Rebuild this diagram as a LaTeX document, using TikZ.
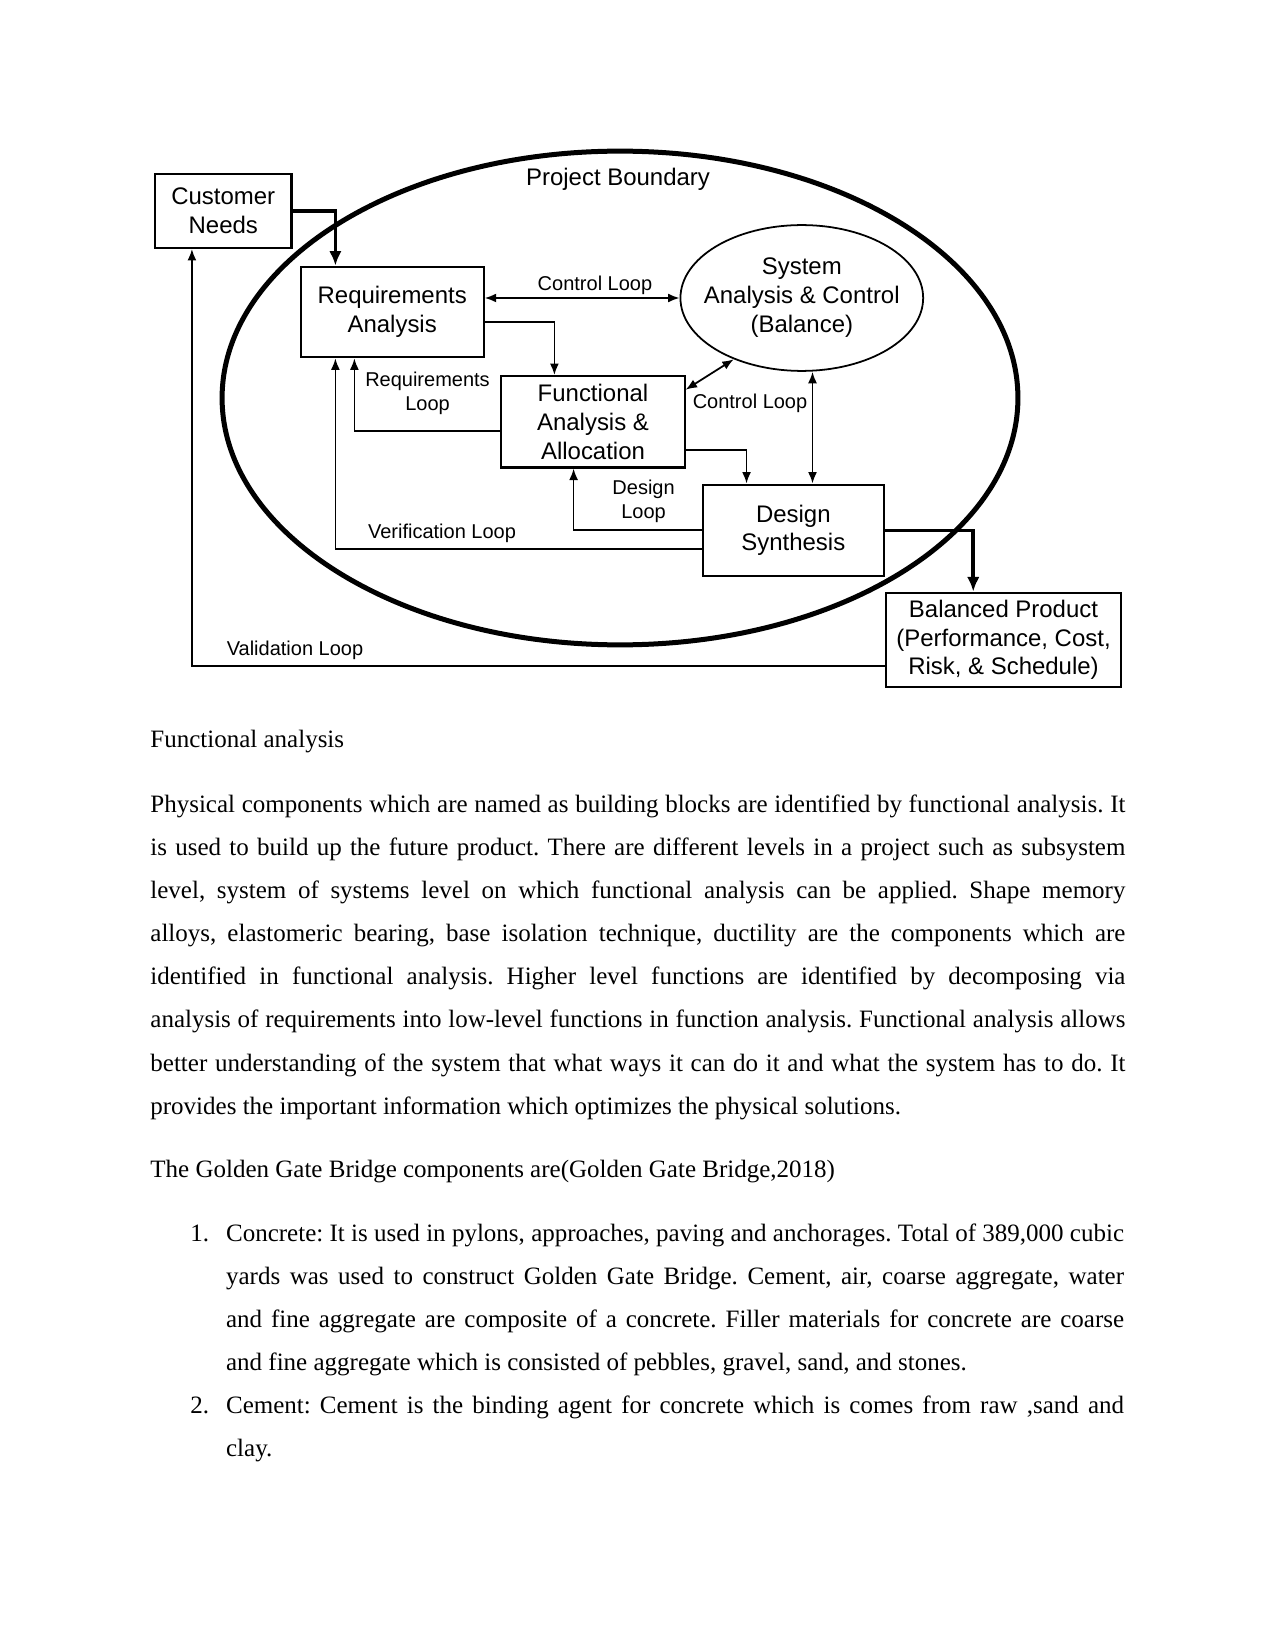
\documentclass[tikz,border=0pt]{standalone}
\usepackage{fontspec}
\setmainfont{Liberation Serif}
\setsansfont{Liberation Sans}
\usetikzlibrary{shapes.geometric,arrows.meta,calc}
\hyphenpenalty=10000
\exhyphenpenalty=10000
\frenchspacing
\begin{document}
\begin{tikzpicture}[x=0.48pt,y=-0.48pt,
  box/.style={draw, line width=1pt, rectangle, inner sep=0, align=center, font=\sffamily\fontsize{11.5}{13.9}\selectfont},
  lbl/.style={inner sep=0, align=center, font=\sffamily\fontsize{9.6}{11.4}\selectfont},
  arr/.style={line width=0.85pt, -{Latex[length=5.5pt,width=4.3pt]}},
  dbl/.style={line width=0.85pt, {Latex[length=5.5pt,width=4.3pt]}-{Latex[length=5.5pt,width=4.3pt]}},
  thk/.style={line width=1.7pt, -{Latex[length=7pt,width=6pt]}},
  body/.style={inner sep=0, anchor=base west, align=justify, font=\fontsize{12}{20.7}\selectfont\frenchspacing}
]
\useasboundingbox[fill=white] (0,0) rectangle (1275,1650);

% project boundary
\node[draw, ellipse, line width=2.4pt, minimum width=382pt, minimum height=237pt, inner sep=0] (pb) at (620,398) {};
\node[box, draw=none] (pbl) at (618,179.3) {Project Boundary};

% blocks
\node[box, minimum width=65.5pt, minimum height=35.3pt] (cn) at (223.3,211.2) {Customer\\Needs};
\node[box, minimum width=87.8pt, minimum height=43.5pt] (ra) at (392.2,312) {Requirements\\Analysis};
\node[box, minimum width=87.9pt, minimum height=43.9pt] (faa) at (593,421.8) {Functional\\Analysis \&\\Allocation};
\node[box, minimum width=87.1pt, minimum height=43.9pt] (ds) at (793.3,530.3) {Design\\Synthesis};
\node[box, minimum width=113.1pt, minimum height=45.3pt] (bp) at (1003.5,639.8) {Balanced Product\\(Performance, Cost,\\Risk, \& Schedule)};
\node[draw, ellipse, line width=0.85pt, minimum width=116.5pt, minimum height=70pt, inner sep=0] (sac) at (801.8,298) {};
\node[box, draw=none] (sact) at (sac.center) {System\\Analysis \& Control\\(Balance)};

% connectors
\draw[thk] (cn.east) -| ($(ra.north west)+(35.7,0)$);
\draw[dbl] (ra.east |- sac.west) -- (sac.west);
\draw[arr] ($(ra.east)+(0,9.7)$) -| ($(faa.north west)+(54,0)$);
\draw[arr] ($(faa.west)+(0,8.9)$) -| ($(ra.south west)+(54.7,0)$);
\draw[dbl] ($(faa.north east)+(0,14.7)$) -- (sac.222);
\coordinate (vx) at (812.5,0);
\draw[dbl] (sac.south -| vx) -- (ds.north -| vx);
\draw[arr] ($(faa.east)+(0,28.2)$) -| ($(ds.north west)+(45,0)$);
\draw[thk] (ds.east) -| ($(bp.north west)+(88.6,0)$);
\draw[arr] (ds.west) -| ($(faa.south west)+(73.2,0)$);
\draw[arr] ($(ds.west)+(0,18.7)$) -| ($(ra.south west)+(35.7,0)$);
\draw[arr] ($(bp.west)+(0,25.9)$) -| ($(cn.south west)+(37.9,0)$);

% loop labels
\node[lbl] (l1) at (595,285) {Control Loop};
\node[lbl] (l2) at (427.5,393.7) {Requirements\\Loop};
\node[lbl] (l3) at (750,403.3) {Control Loop};
\node[lbl] (l4) at (643.6,501) {Design\\Loop};
\node[lbl] (l5) at (442,533.3) {Verification Loop};
\node[lbl] (l6) at (295,650.7) {Validation Loop};

% body text
\node[body] (t1) at (150,747.3) {Functional analysis};
\node[body, text width=468pt] (t2) at (150,812.3) {Physical components which are named as building blocks are identified by functional analysis. It\linebreak
is used to build up the future product. There are different levels in a project such as subsystem\linebreak
level, system of systems level on which functional analysis can be applied. Shape memory\linebreak
alloys, elastomeric bearing, base isolation technique, ductility are the components which are\linebreak
identified in functional analysis. Higher level functions are identified by decomposing via\linebreak
analysis of requirements into low-level functions in function analysis. Functional analysis allows\linebreak
better understanding of the system that what ways it can do it and what the system has to do. It\linebreak
provides the important information which optimizes the physical solutions.};
\node[body] (t3) at (150,1177.3) {The Golden Gate Bridge components are(Golden Gate Bridge,2018)};
\node[body] (n1) at (190,1241.3) {1.};
\node[body, text width=431pt] (i1) at (225.7,1241.3) {Concrete: It is used in pylons, approaches, paving and anchorages. Total of 389,000 cubic\linebreak
yards was used to construct Golden Gate Bridge. Cement, air, coarse aggregate, water\linebreak
and fine aggregate are composite of a concrete. Filler materials for concrete are coarse\linebreak
and fine aggregate which is consisted of pebbles, gravel, sand, and stones.};
\node[body] (n2) at (190,1413.8) {2.};
\node[body, text width=431pt] (i2) at (225.7,1413.8) {Cement: Cement is the binding agent for concrete which is comes from raw ,sand and\linebreak
clay.};
\end{tikzpicture}
\end{document}
